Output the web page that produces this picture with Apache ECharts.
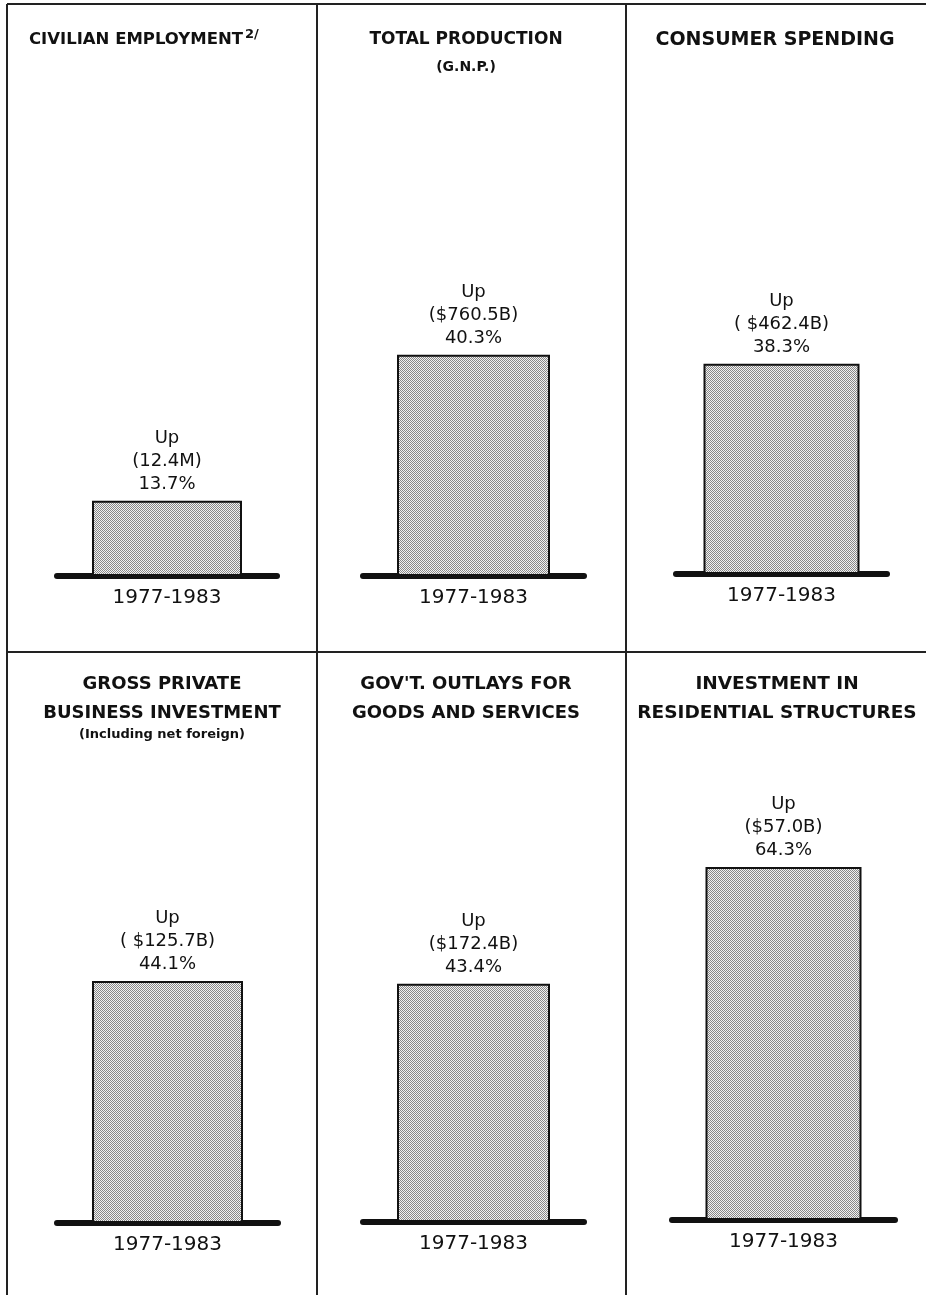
<!DOCTYPE html>
<html lang="en">
<head>
    <meta charset="UTF-8">
    <title>1977-1983</title>
    <script src="https://cdn.jsdelivr.net/npm/echarts@6/dist/echarts.min.js"></script>
    <style>
        html, body { margin: 0; padding: 0; background: #fff; }
        #chart1 { width: 926px; height: 1295px; }
    </style>
</head>
<body>
<div id="chart1"></div>
<script type="text/javascript">
    // values
    var periods = ['1977-1983'];
    var panelTitles = [
        'CIVILIAN EMPLOYMENT',
        'TOTAL PRODUCTION',
        'CONSUMER SPENDING',
        'GROSS PRIVATE\nBUSINESS INVESTMENT',
        "GOV'T. OUTLAYS FOR\nGOODS AND SERVICES",
        'INVESTMENT IN\nRESIDENTIAL STRUCTURES'
    ];
    var panelNotes = ['', '(G.N.P.)', '', '(Including net foreign)', '', ''];
    var pctUp = [13.7, 40.3, 38.3, 44.1, 43.4, 64.3];
    var amountUp = ['(12.4M)', '($760.5B)', '( $462.4B)', '( $125.7B)', '($172.4B)', '($57.0B)'];

    // where each little chart sits (baseline span, bar width, title anchor)
    var boxes = [
        {left: 57,  width: 220, base: 576,  bar: 150, tx: 243, ty: 27,  fs: 16.5, align: 'right'},
        {left: 363, width: 221, base: 576,  bar: 153, tx: 466, ty: 27,  fs: 17,   align: 'center'},
        {left: 676, width: 211, base: 574,  bar: 156, tx: 775, ty: 27,  fs: 19,   align: 'center'},
        {left: 57,  width: 221, base: 1223, bar: 151, tx: 162, ty: 670, fs: 18,   align: 'center'},
        {left: 363, width: 221, base: 1222, bar: 153, tx: 466, ty: 670, fs: 18,   align: 'center'},
        {left: 672, width: 223, base: 1220, bar: 156, tx: 777, ty: 670, fs: 18.5, align: 'center'}
    ];
    var plotH = 549; // px for 100 %

    // halftone-ish grey fill
    var cv = document.createElement('canvas');
    cv.width = 2; cv.height = 2;
    var ctx = cv.getContext('2d');
    ctx.fillStyle = '#f2f2f2';
    ctx.fillRect(0, 0, 2, 2);
    ctx.fillStyle = '#888888';
    ctx.fillRect(0, 0, 1, 1);
    ctx.fillRect(1, 1, 1, 1);
    var dots = {image: cv, repeat: 'repeat'};

    var font = 'DejaVu Sans';
    var grids = [], xAxes = [], yAxes = [], series = [], titles = [];

    for (var i = 0; i < 6; i++) {
        var b = boxes[i];
        grids.push({left: b.left, width: b.width, top: b.base - plotH, height: plotH});
        xAxes.push({
            type: 'category', gridIndex: i, data: periods,
            axisTick: {show: false},
            axisLine: {lineStyle: {color: '#111', width: 6}},
            axisLabel: {margin: 12, fontSize: 20, color: '#111', fontFamily: font}
        });
        yAxes.push({type: 'value', gridIndex: i, min: 0, max: 100, show: false});
        series.push({
            type: 'bar', xAxisIndex: i, yAxisIndex: i,
            barWidth: b.bar,
            data: [pctUp[i]],
            itemStyle: {color: dots, borderColor: '#111', borderWidth: 2},
            label: {
                show: true, position: 'top', distance: 5,
                fontFamily: font, fontSize: 18, lineHeight: 23, color: '#111',
                formatter: function (p) {
                    return 'Up\n' + amountUp[p.seriesIndex] + '\n' + pctUp[p.seriesIndex] + '%';
                }
            }
        });
        titles.push({
            text: panelTitles[i],
            subtext: panelNotes[i],
            left: b.tx, top: b.ty,
            textAlign: b.align,
            padding: 0,
            itemGap: i === 1 ? 5 : 0,
            textStyle: {fontFamily: font, fontWeight: 'bold', fontSize: b.fs, color: '#111', lineHeight: i < 3 ? 26 : 29},
            subtextStyle: {fontFamily: font, fontWeight: 'bold', fontSize: i === 1 ? 14 : 13, color: '#111', lineHeight: i === 1 ? 18 : 14}
        });
    }
    // footnote mark after CIVILIAN EMPLOYMENT
    titles.push({
        text: '2/', left: 245, top: 28, padding: 0, textAlign: 'left',
        textStyle: {fontFamily: font, fontWeight: 'bold', fontSize: 13, color: '#111'}
    });

    function rule(x1, y1, x2, y2) {
        return {type: 'line', shape: {x1: x1, y1: y1, x2: x2, y2: y2}, style: {stroke: '#222', lineWidth: 2}, silent: true};
    }

    chart = echarts.init(document.getElementById('chart1'));
    chart.setOption({
        animation: false,
        title: titles,
        grid: grids,
        xAxis: xAxes,
        yAxis: yAxes,
        series: series,
        graphic: [
            rule(7, 4, 926, 4),
            rule(7, 652, 926, 652),
            rule(7, 4, 7, 1295),
            rule(317, 4, 317, 1295),
            rule(626, 4, 626, 1295)
        ]
    });
</script>
</body>
</html>
